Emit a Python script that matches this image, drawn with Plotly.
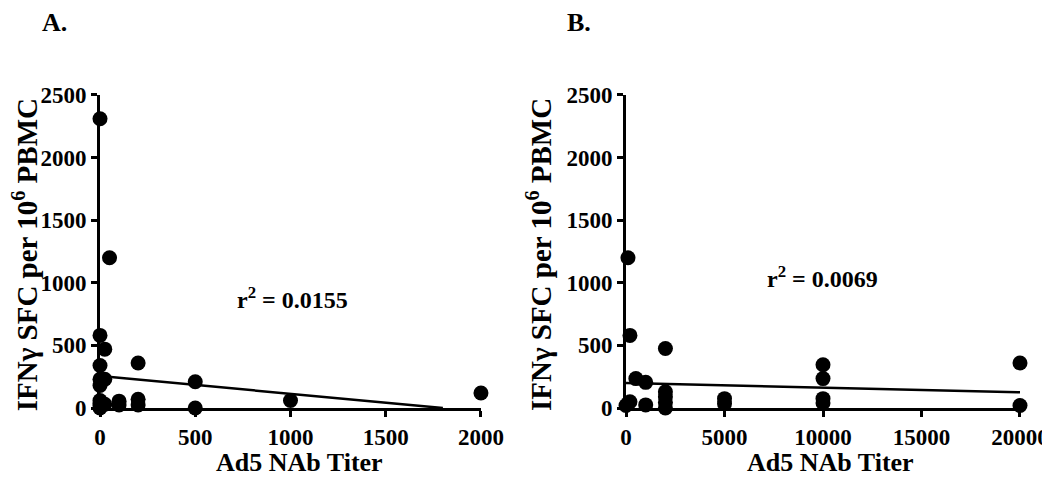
import plotly.graph_objects as go

# Panel A: Ad5 NAb titer vs IFN-gamma SFC
titer_a = [0, 50, 0, 25, 0, 200, 0, 0, 25, 0, 500, 0, 0, 25, 100, 200, 200, 500, 1000, 2000, 0, 100]
sfc_a = [2310, 1200, 580, 470, 340, 360, 230, 180, 230, 60, 210, 20, 0, 30, 55, 70, 25, 0, 60, 120, 40, 25]
fit_a_x = [0, 1800]
fit_a_y = [255, 0]

# Panel B
titer_b = [100, 200, 500, 1000, 2000, 2000, 2000, 2000, 2000, 5000, 5000,
           10000, 10000, 10000, 10000, 20000, 20000, 100, 200, 1000, 0]
sfc_b = [1200, 580, 235, 205, 475, 130, 90, 45, 0, 75, 35,
         345, 235, 75, 40, 360, 20, 35, 50, 25, 20]
fit_b_x = [0, 20000]
fit_b_y = [200, 125]

y_ticks = [0, 500, 1000, 1500, 2000, 2500]
x_ticks_a = [0, 500, 1000, 1500, 2000]
x_ticks_b = [0, 5000, 10000, 15000, 20000]

r2_a = "0.0155"
r2_b = "0.0069"

FONT = "Liberation Serif"


def bold(vals):
    return ["<b>%d</b>" % v for v in vals]


fig = go.Figure()

fig.add_trace(go.Scatter(x=fit_a_x, y=fit_a_y, mode='lines',
                         line=dict(color='black', width=2.5),
                         xaxis='x', yaxis='y'))
fig.add_trace(go.Scatter(x=titer_a, y=sfc_a, mode='markers', cliponaxis=False,
                         marker=dict(color='black', size=15),
                         xaxis='x', yaxis='y'))
fig.add_trace(go.Scatter(x=fit_b_x, y=fit_b_y, mode='lines',
                         line=dict(color='black', width=2.5),
                         xaxis='x2', yaxis='y2'))
fig.add_trace(go.Scatter(x=titer_b, y=sfc_b, mode='markers', cliponaxis=False,
                         marker=dict(color='black', size=15),
                         xaxis='x2', yaxis='y2'))

axis_common = dict(showgrid=False, zeroline=False, showline=True, automargin=False,
                   linecolor='black', linewidth=3,
                   ticks='outside', ticklen=6, tickwidth=3, tickcolor='black',
                   tickfont=dict(family=FONT, size=23, color='black'))

# page body adds an 8px offset, so the figure is drawn 8px smaller
fig.update_layout(
    width=1042, height=472,
    showlegend=False,
    plot_bgcolor='white', paper_bgcolor='white',
    margin=dict(l=0, r=0, t=0, b=0),
    font=dict(family=FONT, color='black'),
    xaxis=dict(axis_common, domain=[0.0883, 0.4539], range=[0, 2000],
               tickvals=x_ticks_a, ticktext=bold(x_ticks_a), anchor='y'),
    yaxis=dict(axis_common, domain=[0.1525, 0.8157], range=[0, 2500],
               tickvals=y_ticks, ticktext=bold(y_ticks), anchor='x'),
    xaxis2=dict(axis_common, domain=[0.5931, 0.9712], range=[0, 20000],
                tickvals=x_ticks_b, ticktext=bold(x_ticks_b), anchor='y2'),
    yaxis2=dict(axis_common, domain=[0.1525, 0.8157], range=[0, 2500],
                tickvals=y_ticks, ticktext=bold(y_ticks), anchor='x2'),
)

ytitle = "<b>IFNγ SFC per 10<sup>6</sup> PBMC</b>"
xtitle = "<b>Ad5 NAb Titer</b>"

# axis titles
for xpos in [0.0165, 0.5096]:
    fig.add_annotation(x=xpos, y=0.4767, xref='paper', yref='paper', showarrow=False,
                       xanchor='center', yanchor='middle', textangle=-90, text=ytitle,
                       font=dict(family=FONT, size=29, color='black'))
for xpos in [0.2793, 0.7898]:
    fig.add_annotation(x=xpos, y=0.037, xref='paper', yref='paper', showarrow=False,
                       xanchor='center', yanchor='middle', text=xtitle,
                       font=dict(family=FONT, size=26, color='black'))

fig.add_annotation(x=1010, y=880, xref='x', yref='y', showarrow=False,
                   text="<b>r<sup>2</sup> = " + r2_a + "</b>",
                   font=dict(family=FONT, size=24, color='black'))
fig.add_annotation(x=9950, y=1050, xref='x2', yref='y2', showarrow=False,
                   text="<b>r<sup>2</sup> = " + r2_b + "</b>",
                   font=dict(family=FONT, size=24, color='black'))
fig.add_annotation(x=0.031, y=1.0, xref='paper', yref='paper', showarrow=False,
                   xanchor='left', yanchor='top', yshift=2, text="<b>A.</b>",
                   font=dict(family=FONT, size=26, color='black'))
fig.add_annotation(x=0.535, y=1.0, xref='paper', yref='paper', showarrow=False,
                   xanchor='left', yanchor='top', yshift=2, text="<b>B.</b>",
                   font=dict(family=FONT, size=26, color='black'))

fig.write_html("out.html")
